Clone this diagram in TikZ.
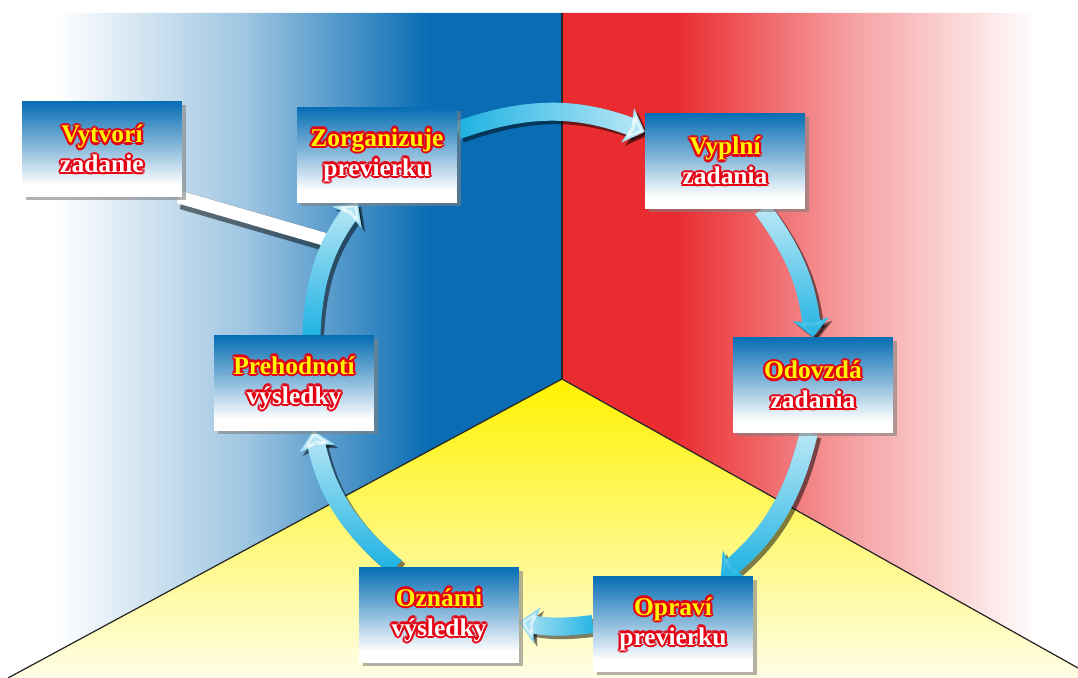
\documentclass[tikz,border=0pt]{standalone}
\usepackage{fontspec}
\setmainfont{Liberation Serif}
\usepackage{xcolor}
\usepackage{tikz}
\usetikzlibrary{arrows.meta,shadows,fadings,calc}

\definecolor{wallblue}{RGB}{10,109,180}
\definecolor{wallred}{RGB}{234,44,48}
\definecolor{wallyellow}{RGB}{255,242,0}
\definecolor{boxblue}{RGB}{8,110,180}
\definecolor{flowcyan}{RGB}{22,176,226}
\definecolor{rimred}{RGB}{230,0,18}
\definecolor{titleyellow}{RGB}{255,245,0}
\colorlet{wallbluemid}{wallblue!40!white}
\colorlet{wallredmid}{wallred!45!white}
\colorlet{boxmid}{boxblue!50!white}

\pgfdeclarehorizontalshading{bluewall}{100bp}{color(0bp)=(white); color(30bp)=(white); color(47bp)=(wallbluemid); color(63bp)=(wallblue); color(100bp)=(wallblue)}
\pgfdeclarehorizontalshading{redwall}{100bp}{color(0bp)=(wallred); color(36bp)=(wallred); color(53bp)=(wallredmid); color(71bp)=(white); color(100bp)=(white)}
\pgfdeclareverticalshading{taskfill}{100bp}{color(0bp)=(white); color(31bp)=(white); color(52bp)=(boxmid); color(75bp)=(boxblue); color(100bp)=(boxblue)}

\pgfdeclarelayer{walls}
\pgfdeclarelayer{links}
\pgfsetlayers{walls,links,main}

% letters with a red rim
\newcommand{\rimmed}[2]{%
  \leavevmode\hbox{%
    \foreach \rimang in {0,45,...,315}{%
      \pgfmathsetlengthmacro\rimdx{1.3pt*cos(\rimang)}%
      \pgfmathsetlengthmacro\rimdy{1.3pt*sin(\rimang)}%
      \rlap{\hspace*{\rimdx}\raisebox{\rimdy}{\textcolor{rimred}{#2}}}}%
    \textcolor{#1}{#2}}}

\begin{document}
\begin{tikzpicture}[x=0.02cm, y=0.02cm,
    task/.style={rectangle, shade, shading=taskfill, minimum width=3.2cm, minimum height=1.9cm, inner sep=0pt, align=center, font=\fontsize{14.5}{17}\selectfont\bfseries, drop shadow={shadow xshift=2pt, shadow yshift=-2pt, opacity=0.6}},
    flow/.style={draw=flowcyan, line width=0.36cm, -{Stealth[width=0.72cm, length=0.36cm, inset=0.08cm]}},
    flowshine/.style={flow, draw=white, opacity=0.75},
    flowshadow/.style={flow, draw=black, opacity=0.5, transform canvas={xshift=2pt, yshift=-2pt}},
    edge/.style={draw=black!85, line width=0.7pt}
]
    \useasboundingbox (0,0) rectangle (1078,678);

    % Tasks
    \node[task] (vytv) at (102,529) {\rimmed{titleyellow}{Vytvorí}\\\rimmed{white}{zadanie}};
    \node[task] (zorg) at (377,523) {\rimmed{titleyellow}{Zorganizuje}\\\rimmed{white}{previerku}};
    \node[task] (vypl) at (725,517) {\rimmed{titleyellow}{Vyplní}\\\rimmed{white}{zadania}};
    \node[task] (odov) at (813,293) {\rimmed{titleyellow}{Odovzdá}\\\rimmed{white}{zadania}};
    \node[task] (opra) at (673,54) {\rimmed{titleyellow}{Opraví}\\\rimmed{white}{previerku}};
    \node[task] (ozna) at (439,63) {\rimmed{titleyellow}{Oznámi}\\\rimmed{white}{výsledky}};
    \node[task] (preh) at (294,295) {\rimmed{titleyellow}{Prehodnotí}\\\rimmed{white}{výsledky}};
    \coordinate (merge) at (334,436);
    \coordinate (corner) at (562,299);

    % Walls
    \begin{pgfonlayer}{walls}
        \shade[shading=bluewall] (0,0) -- (8,0) -- (corner) -- (562,665) -- (0,665) -- cycle;
        \shade[shading=redwall] (562,665) -- (corner) -- (1078,10) -- (1078,665) -- cycle;
        \shade[top color=wallyellow, bottom color=wallyellow!10!white] (8,0) -- (corner) -- (1078,10) -- (1078,0) -- cycle;
        \draw[edge] (562,665) -- (corner);
        \draw[edge] (8,0) -- (corner) -- (1078,10);
    \end{pgfonlayer}

    % Arrows
    \begin{pgfonlayer}{links}
        \draw[flowshadow, -] (vytv.-32) -- (merge);
        \draw[draw=white, line width=0.26cm] (vytv.-32) -- (merge);

        \draw[flowshadow] (zorg.17) to[bend left=20] (vypl.160);
        \draw[flow] (zorg.17) to[bend left=20] (vypl.160);
        \draw[flowshine, path fading=west] (zorg.17) to[bend left=20] (vypl.160);

        \draw[flowshadow] (vypl.-52) to[bend left=15] (odov.north);
        \draw[flow] (vypl.-52) to[bend left=15] (odov.north);
        \draw[flowshine, path fading=south] (vypl.-52) to[bend left=15] (odov.north);

        \draw[flowshadow] (odov.-95) to[bend left=18] (opra.45);
        \draw[flow] (odov.-95) to[bend left=18] (opra.45);
        \draw[flowshine, path fading=south] (odov.-95) to[bend left=18] (opra.45);

        \draw[flowshadow] (opra.west) to[bend left=9] (ozna.-5);
        \draw[flow] (opra.west) to[bend left=9] (ozna.-5);
        \draw[flowshine, path fading=east] (opra.west) to[bend left=9] (ozna.-5);

        \draw[flowshadow] (ozna.132) to[bend left=19] (preh.-68);
        \draw[flow] (ozna.132) to[bend left=19] (preh.-68);
        \draw[flowshine, path fading=south] (ozna.132) to[bend left=19] (preh.-68);

        \draw[flowshadow] (preh.70) to[bend left=17] (zorg.-112);
        \draw[flow] (preh.70) to[bend left=17] (zorg.-112);
        \draw[flowshine, path fading=south] (preh.70) to[bend left=17] (zorg.-112);
    \end{pgfonlayer}
\end{tikzpicture}
\end{document}
